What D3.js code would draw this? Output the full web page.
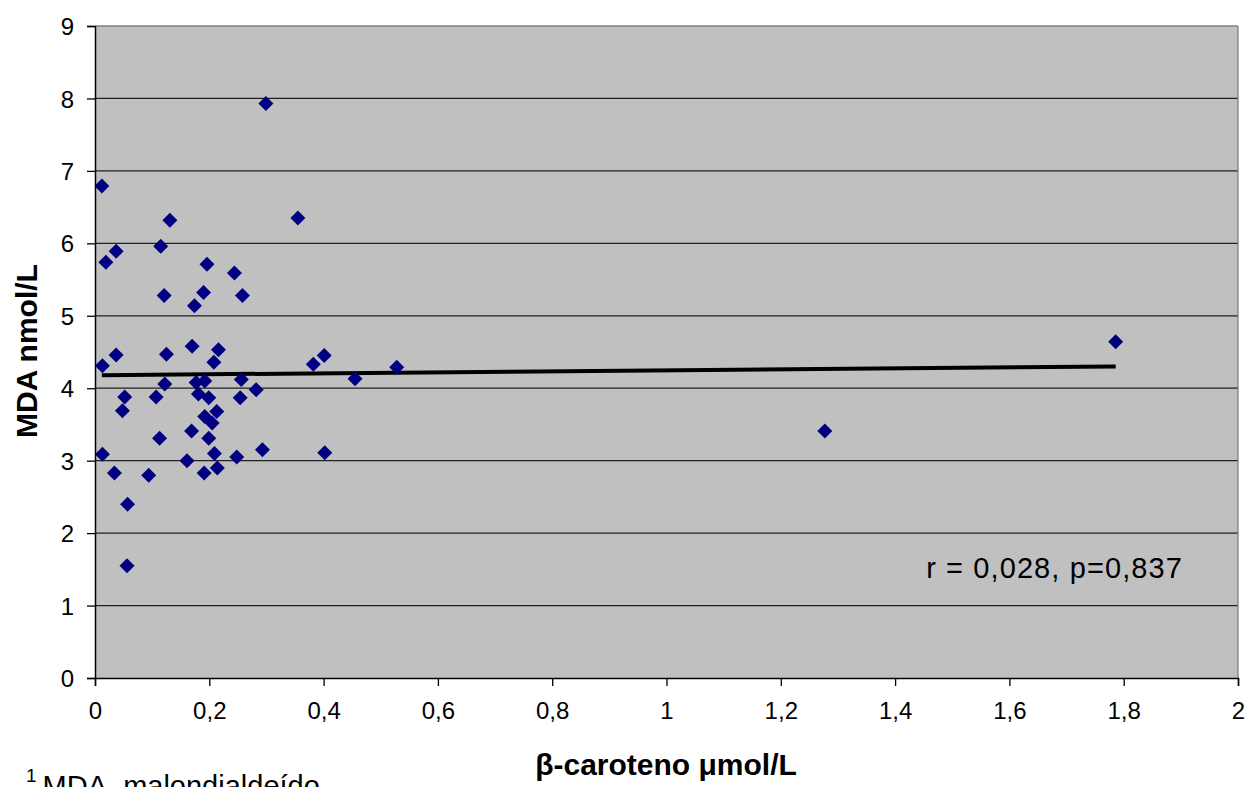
<!DOCTYPE html>
<html><head><meta charset="utf-8">
<script src="https://cdn.jsdelivr.net/npm/d3@7"></script>
<style>body{margin:0;background:#fff;}svg{display:block;font-family:Arial,"Liberation Sans",sans-serif;}</style>
</head><body>
<svg id="c" width="1248" height="787"></svg>
<script>
const xValues = [0.012,0.019,0.037,0.013,0.037,0.052,0.048,0.013,0.034,0.057,0.056,0.094,0.107,0.113,0.115,0.121,0.125,0.122,0.131,0.161,0.170,0.169,0.174,0.177,0.181,0.190,0.196,0.191,0.192,0.192,0.199,0.199,0.205,0.213,0.208,0.216,0.209,0.214,0.244,0.248,0.254,0.256,0.258,0.282,0.293,0.299,0.355,0.382,0.401,0.402,0.455,0.528,1.277,1.786];
const yValues = [6.79,5.74,5.89,4.31,4.46,3.88,3.69,3.09,2.83,2.40,1.55,2.80,3.88,3.31,5.96,5.28,4.47,4.06,6.32,3.00,4.58,3.41,5.14,4.08,3.92,5.32,5.71,2.83,4.10,3.61,3.87,3.31,3.52,3.68,4.36,4.53,3.10,2.90,5.59,3.05,3.87,4.12,5.28,3.98,3.15,7.93,6.35,4.33,4.45,3.11,4.13,4.29,3.41,4.64];
const trendX = [0.012, 1.786];
const trendY = [4.18, 4.30];
const xTicks = [0,0.2,0.4,0.6,0.8,1,1.2,1.4,1.6,1.8,2];
const yTicks = [0,1,2,3,4,5,6,7,8,9];
const xTitle = "β-caroteno μmol/L";
const yTitle = "MDA nmol/L";
const annotation = "r = 0,028, p=0,837";
const footnote = "MDA, malondialdeído";

const svg = d3.select("#c");
const L=95, R=1238, T=26, B=678;
const x = d3.scaleLinear().domain([0,2]).range([L,R]);
const y = d3.scaleLinear().domain([0,9]).range([B,T]);
const fmt = d => String(d).replace(".", ",");

svg.append("rect").attr("x",L).attr("y",T).attr("width",R-L).attr("height",B-T).attr("fill","#c0c0c0");
svg.append("g").selectAll("line").data(yTicks.filter(d=>d>0)).join("line")
  .attr("x1",L).attr("x2",R).attr("y1",d=>y(d)).attr("y2",d=>y(d))
  .attr("stroke",d=>d===9?"#808080":"#202020").attr("stroke-width",1.3);
svg.append("line").attr("x1",R).attr("x2",R).attr("y1",T).attr("y2",B).attr("stroke","#808080").attr("stroke-width",1.3);

const xAxis = svg.append("g").attr("transform",`translate(0,${B})`)
  .call(d3.axisBottom(x).tickValues(xTicks).tickFormat(fmt).tickSize(8).tickPadding(22));
const yAxis = svg.append("g").attr("transform",`translate(${L},0)`)
  .call(d3.axisLeft(y).tickValues(yTicks).tickFormat(fmt).tickSize(8).tickPadding(13));
[xAxis,yAxis].forEach(a=>{
  a.selectAll("path").attr("stroke","#000").attr("stroke-width",1.5);
  a.selectAll("line").attr("stroke","#000").attr("stroke-width",1.3);
  a.selectAll("text").attr("font-size",24).attr("fill","#000").attr("font-family","Arial,'Liberation Sans',sans-serif");
});
xAxis.selectAll("text").attr("dy","0.45em");
yAxis.selectAll("text").attr("dy","0.36em");

svg.append("line").attr("x1",x(trendX[0])).attr("y1",y(trendY[0])).attr("x2",x(trendX[1])).attr("y2",y(trendY[1]))
  .attr("stroke","#000").attr("stroke-width",4);

const s=7.5;
svg.append("g").selectAll("path").data(xValues.map((v,i)=>[v,yValues[i]])).join("path")
  .attr("d",d=>{const cx=x(d[0]),cy=y(d[1]);return `M${cx},${cy-s}L${cx+s},${cy}L${cx},${cy+s}L${cx-s},${cy}Z`;})
  .attr("fill","#000080");

svg.append("text").attr("x",1183).attr("y",578).attr("text-anchor","end").attr("font-size",29).attr("letter-spacing","1.1px").text(annotation);
svg.append("text").attr("x",666).attr("y",775).attr("text-anchor","middle").attr("font-size",30).attr("font-weight","bold").text(xTitle);
svg.append("text").attr("transform","translate(37,351) rotate(-90)").attr("text-anchor","middle").attr("font-size",30).attr("font-weight","bold").text(yTitle);
const fn = svg.append("text").attr("x",26).attr("y",796).attr("font-size",29);
fn.append("tspan").attr("font-size",19).attr("dy",-14).text("1");
fn.append("tspan").attr("dy",14).attr("dx",6).text(footnote);
</script>
</body></html>
